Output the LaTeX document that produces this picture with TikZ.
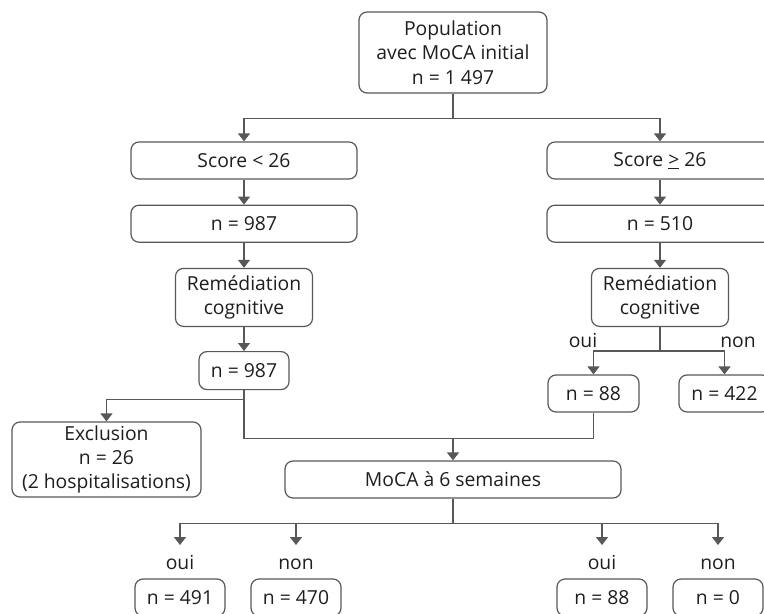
\documentclass[tikz,border=0pt]{standalone}
\usepackage{fontspec}
\setmainfont{Open Sans}
\usepackage{tikz}
\usetikzlibrary{arrows.meta, positioning, calc}
\definecolor{linegray}{HTML}{585858}
\definecolor{textgray}{HTML}{1E1E1E}

\begin{document}
\begin{tikzpicture}[
  x=0.75pt, y=-0.75pt,
  box/.style={rectangle, rounded corners=6pt, draw=linegray, line width=0.9pt,
              align=center, text=textgray, inner sep=2pt,
              font=\fontsize{14.5}{18.3}\selectfont,
              minimum width=67.5pt, minimum height=27.75pt},
  lab/.style={text=textgray, inner sep=2pt, text height=3ex, text depth=0pt,
              font=\fontsize{14.5}{18.3}\selectfont},
  line/.style={linegray, line width=0.9pt},
  arrow/.style={-{Triangle[width=9pt, length=6pt]}, linegray, line width=0.9pt},
]
  \useasboundingbox (0,0) rectangle (764,614);
  \clip (0,0) rectangle (764,614);

  \node[box, minimum width=141pt, minimum height=60.75pt] (pop) at (453,52.5)
    {Population\\avec MoCA initial\\n = 1~497};
  % left branch
  \node[box, minimum width=169.5pt] (s1) at (244,160.5) {Score < 26};
  \node[box, minimum width=169.5pt, below=18.75pt of s1] (n1) {n = 987};
  \node[box, minimum width=102.75pt, minimum height=43.5pt, below=18.75pt of n1] (r1)
    {Remédiation\\cognitive};
  \node[box, minimum height=28.5pt, below=18pt of r1] (m1) {n = 987};
  \node[box, minimum width=141.75pt, minimum height=56.25pt] (ex) at (106.5,459.5)
    {Exclusion\\n = 26\\(2 hospitalisations)};
  % right branch
  \node[box, minimum width=169.5pt] (s2) at (660,160.5) {Score \underline{>} 26};
  \node[box, minimum width=169.5pt, below=18.75pt of s2] (n2) {n = 510};
  \node[box, minimum width=102.75pt, minimum height=43.5pt, below=18.75pt of n2] (r2)
    {Remédiation\\cognitive};
  \node[box, minimum width=68.25pt] (y2) at (593.5,393.5) {n = 88};
  \node[box, minimum width=68.25pt] (no2) at (724.5,393.5) {n = 422};
  \node[lab] (ly2) at (583,337) {oui};
  \node[lab] (lno2) at (738,337) {non};
  % follow-up
  \node[box, minimum width=252pt] (moca) at (453,479.5) {MoCA à 6 semaines};
  \node[lab, anchor=north] (o1) at (180,545) {oui};
  \node[lab, anchor=north] (o2) at (296,545) {non};
  \node[lab, anchor=north] (o3) at (602,545) {oui};
  \node[lab, anchor=north] (o4) at (718,545) {non};
  \node[box] (b1) at (180,597.5) {n = 491};
  \node[box] (b2) at (296,597.5) {n = 470};
  \node[box] (b3) at (602,597.5) {n = 88};
  \node[box] (b4) at (718,597.5) {n = 0};

  \draw[line] (pop.south) -- ++(0,25) coordinate (pj);
  \draw[arrow] (pj) -| (s1.north);
  \draw[arrow] (pj) -| (s2.north);
  \draw[arrow] (s1) -- (n1);
  \draw[arrow] (n1) -- (r1);
  \draw[arrow] (r1) -- (m1);
  \draw[arrow] (s2) -- (n2);
  \draw[arrow] (n2) -- (r2);
  \draw[line] (r2.south) -- ++(0,24) coordinate (rj);
  \draw[arrow] (rj) -| (y2.north);
  \draw[arrow] (rj) -| (no2.north);
  \draw[line] (m1.south) -- ++(0,48) coordinate (cj) -| (y2.south);
  \draw[arrow] ($(m1.south)+(0,9)$) -| (ex.north);
  \draw[arrow] (cj -| moca.north) -- (moca.north);
  \draw[line] (moca.south) -- ++(0,25) coordinate (mj);
  \foreach \t in {o1,o2,o3,o4}
    \draw[arrow] (mj) -| (\t.north);
\end{tikzpicture}
\end{document}
